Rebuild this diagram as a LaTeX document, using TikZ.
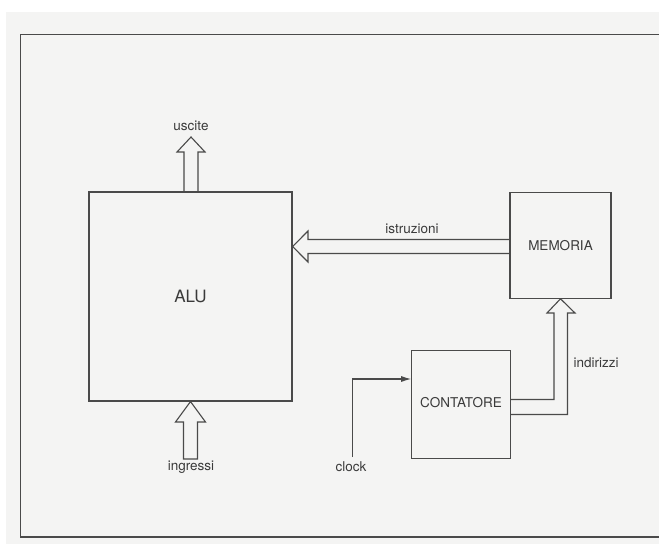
\documentclass[tikz,border=0pt]{standalone}
\usepackage{fontspec}
\setmainfont{TeX Gyre Heros}
\usetikzlibrary{arrows.meta}
\definecolor{paper}{HTML}{F4F4F3}
\definecolor{ink}{HTML}{4A4A4A}
\definecolor{txt}{HTML}{3A3A3A}
\begin{document}
\begin{tikzpicture}[x=1pt,y=-1pt,
  ln/.style={draw=ink,line width=1.1pt,line join=miter},
  box/.style={ln,inner sep=0pt,text=txt,font=\fontsize{13.5}{16}\selectfont},
  lbl/.style={text=txt,inner sep=0pt,font=\fontsize{13.5}{16}\selectfont}]
\useasboundingbox (0,0) rectangle (659,544);
\fill[white] (0,0) rectangle (659,544);
\fill[paper] (6,12) rectangle (659,544);
\draw[draw=ink,line width=1.6pt] (660,34.5) -| (20.5,537) -- (660,537);
% blocks
\node[box,minimum width=203pt,minimum height=209pt,font=\fontsize{17}{20}\selectfont] (alu) at (190.5,296.5) {ALU};
\node[box,minimum width=101pt,minimum height=105.5pt] (mem) at (560.5,245.5) {MEMORIA};
\node[box,minimum width=98.5pt,minimum height=107.5pt] (cnt) at (461,404.5) {\raisebox{4pt}{CONTATORE}};
% labels
\node[lbl] (uscite) at (191,126) {uscite};
\node[lbl] (ingressi) at (191,467) {ingressi};
\node[lbl] (istr) at (412,229) {istruzioni};
\node[lbl] (indir) at (596,363) {indirizzi};
\node[lbl] (clock) at (351,467) {clock};
\coordinate (clk) at (352.5,457);
% uscite arrow
\draw[ln] (184,192) -- (184,152) -- (177,152) -- (191,137) -- (205,152) -- (198,152) -- (198,192);
% ingressi arrow
\draw[ln] (alu.south) -- (205.5,422) -- (197.5,422) -- (197.5,459) -- (183.5,459) -- (183.5,422) -- (175.5,422) -- cycle;
% istruzioni arrow
\draw[ln] (mem.west |- 0,239.5) -- (308,239.5) -- (308,231) -- (alu.east |- 0,246.5) -- (308,262) -- (308,253.5) -- (mem.west |- 0,253.5);
% indirizzi arrow
\draw[ln] (cnt.east |- 0,399.5) -- (554,399.5) -- (554,313) -- (547,313) -- (mem.south) -- (575,313) -- (567.5,313) -- (567.5,414.5) -- (cnt.east |- 0,414.5);
% clock
\draw[ln,-{Latex[length=10pt,width=6pt]}] (clk) |- (cnt.west |- 0,379);
\end{tikzpicture}
\end{document}
